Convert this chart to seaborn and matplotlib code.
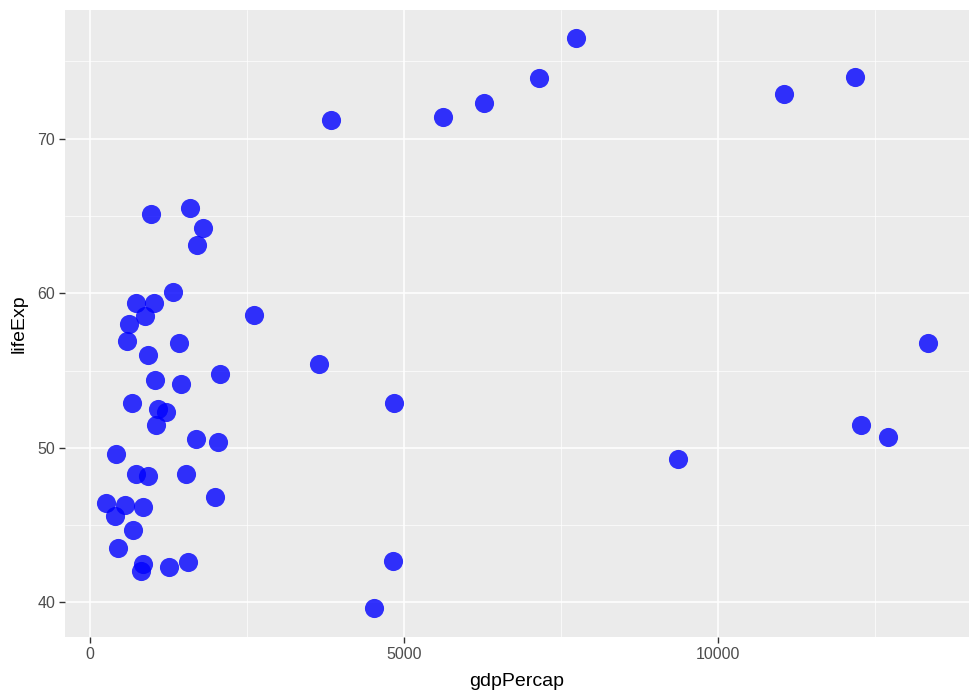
import numpy as np
import pandas as pd
import matplotlib.pyplot as plt
from matplotlib.ticker import MultipleLocator
import seaborn as sns

# values
gdp_percap = [262, 406, 422, 454, 565, 597, 629, 676, 692, 740, 740, 820, 851, 851,
              883, 931, 931, 979, 1026, 1042, 1058, 1090, 1217, 1265, 1329, 1424,
              1456, 1535, 1567, 1599, 1694, 1710, 1806, 1997, 2045, 2076, 2617,
              3652, 3843, 4527, 4829, 4845, 5624, 6277, 7152, 7741, 9364, 11050,
              12180, 12276, 12705, 13342]
life_exp = [46.4, 45.6, 49.6, 43.5, 46.3, 56.9, 58.0, 52.9, 44.7, 48.3, 59.4, 42.0,
            42.5, 46.2, 58.5, 48.2, 56.0, 65.1, 59.4, 54.4, 51.5, 52.5, 52.3, 42.3,
            60.1, 56.8, 54.1, 48.3, 42.6, 65.5, 50.6, 63.1, 64.2, 46.8, 50.4, 54.8,
            58.6, 55.4, 71.2, 39.6, 42.7, 52.9, 71.4, 72.3, 73.9, 76.5, 49.3, 72.9,
            74.0, 51.5, 50.7, 56.8]

df = pd.DataFrame({"gdpPercap": gdp_percap, "lifeExp": life_exp})

sns.set_theme(style="darkgrid", rc={
    "axes.facecolor": "#EBEBEB",
    "grid.color": "white",
    "axes.edgecolor": "#EBEBEB",
})
plt.rcParams["font.family"] = ["Liberation Sans", "DejaVu Sans"]

fig, ax = plt.subplots(figsize=(9.8, 7), dpi=100)
fig.subplots_adjust(left=0.0663, right=0.989, top=0.986, bottom=0.09)

sns.scatterplot(data=df, x="gdpPercap", y="lifeExp", ax=ax, color="blue",
                alpha=0.8, s=190, linewidth=0)

# ggplot-style 5% expansion
xr = df["gdpPercap"].max() - df["gdpPercap"].min()
yr = df["lifeExp"].max() - df["lifeExp"].min()
ax.set_xlim(df["gdpPercap"].min() - 0.05 * xr, df["gdpPercap"].max() + 0.05 * xr)
ax.set_ylim(df["lifeExp"].min() - 0.05 * yr, df["lifeExp"].max() + 0.05 * yr)

ax.xaxis.set_major_locator(MultipleLocator(5000))
ax.xaxis.set_minor_locator(MultipleLocator(2500))
ax.yaxis.set_major_locator(MultipleLocator(10))
ax.yaxis.set_minor_locator(MultipleLocator(5))
ax.grid(which="major", color="white", linewidth=1.1)
ax.grid(which="minor", color="white", linewidth=0.5)
ax.set_axisbelow(True)

ax.tick_params(which="major", length=4, width=1, color="#333333", labelcolor="#4D4D4D",
               labelsize=11.5, pad=3, bottom=True, left=True)
ax.tick_params(which="minor", length=0)
for s in ax.spines.values():
    s.set_visible(False)

ax.set_xlabel("gdpPercap", fontsize=14, color="black", labelpad=8)
ax.set_ylabel("lifeExp", fontsize=14, color="black", labelpad=7)

plt.savefig("out.png", dpi=100)
plt.close()
